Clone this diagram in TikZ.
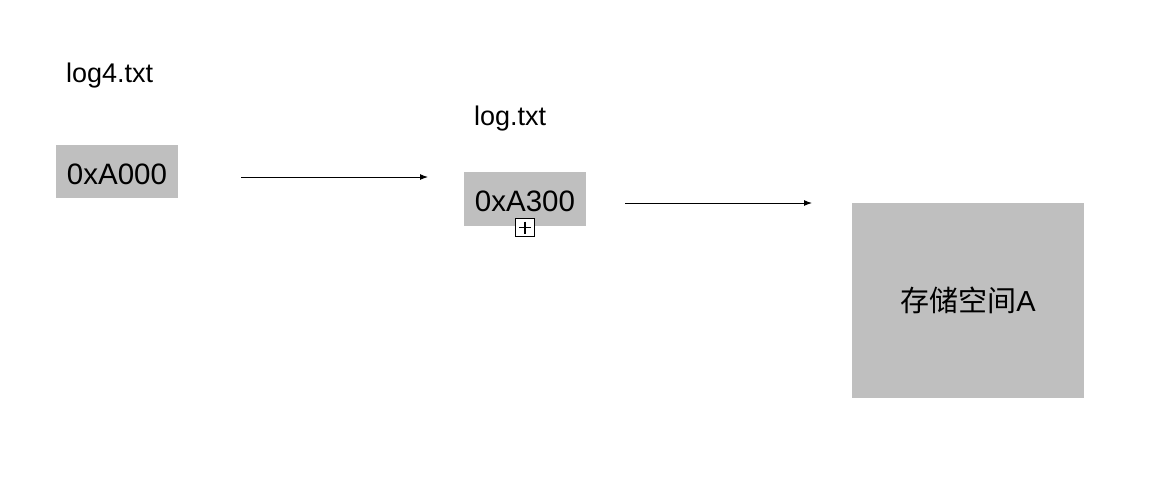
\documentclass[tikz,border=0pt]{standalone}
\usepackage{fontspec}
\setmainfont{Liberation Sans}
\newfontfamily\cjk{Noto Sans CJK SC}
\usetikzlibrary{arrows.meta}
\begin{document}
\begin{tikzpicture}[x=1pt,y=-1pt,
  greybox/.style={fill=boxgrey, draw=none, inner sep=0pt},
  lbl/.style={inner sep=0pt, font=\fontsize{27}{30}\selectfont},
  arr/.style={line width=1pt, -{Latex[length=8pt,width=6pt]}}]
\definecolor{boxgrey}{RGB}{191,191,191}
\useasboundingbox (0,0) rectangle (1174,496);
\node[lbl, anchor=base west] (l4) at (66,82) {log4.txt};
\node[lbl, anchor=base west] (l) at (474,125) {log.txt};
\node[greybox, minimum width=122pt, minimum height=53pt, text height=25pt, text depth=0pt, font=\fontsize{29.5}{32}\selectfont] (a000) at (117,171.5) {0xA000};
\node[greybox, minimum width=122pt, minimum height=54pt, text height=25pt, text depth=0pt, font=\fontsize{29.5}{32}\selectfont] (a300) at (525,199) {0xA300};
\node[draw, fill=white, line width=1.6pt, minimum width=19pt, minimum height=18pt, inner sep=0pt] (plus) at (525,227.5) {};
\draw[line width=1.3pt] (plus.center) ++(-6,0) -- ++(12,0);
\draw[line width=1.3pt] (plus.center) ++(0,-6) -- ++(0,12);
\node[greybox, minimum width=232pt, minimum height=195pt, font=\fontsize{29}{32}\selectfont] (stor) at (968,300.5) {{\cjk 存储空间}A};
\coordinate (s1) at (241,177);
\coordinate (e1) at (428,177);
\coordinate (s2) at (625,203);
\coordinate (e2) at (812,203);
\draw[arr] (s1) -- (e1);
\draw[arr] (s2) -- (e2);
\end{tikzpicture}
\end{document}
